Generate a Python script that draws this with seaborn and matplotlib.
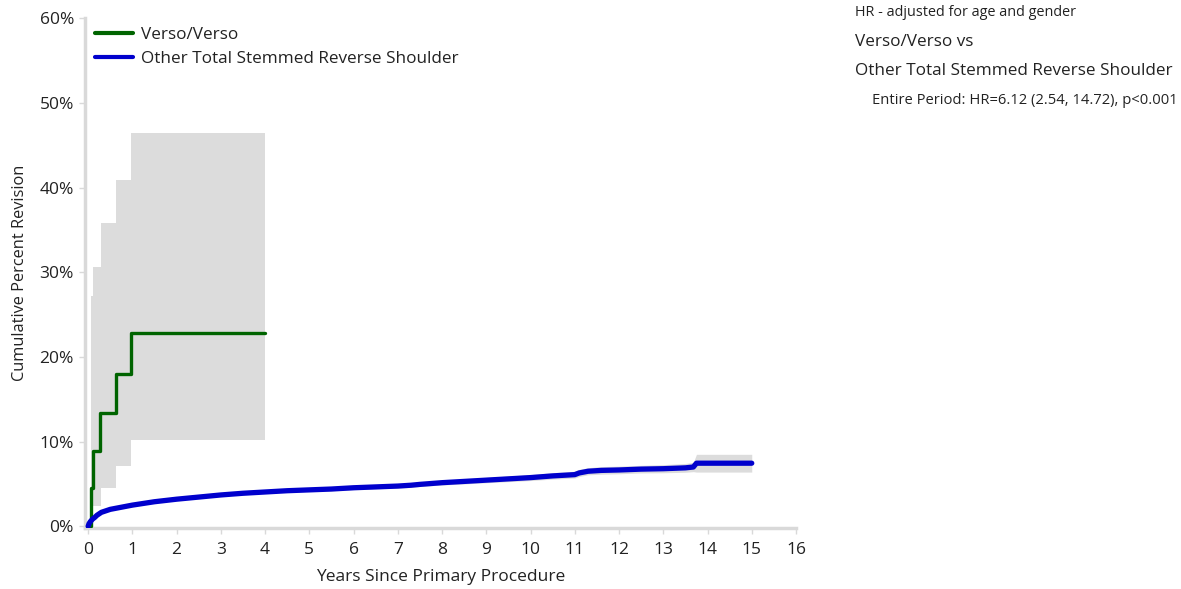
import numpy as np
import pandas as pd
import matplotlib
matplotlib.use("Agg")
import matplotlib.pyplot as plt
import seaborn as sns

# ---- data ----
green_years = [0.0, 0.07, 0.10, 0.27, 0.62, 0.96, 4.0]
green_pct = [0.0, 4.5, 8.9, 13.4, 18.0, 22.8, 22.8]
green_ci_years = [0.07, 0.10, 0.29, 0.64, 0.97, 4.0]
green_ci_low = [0.0, 2.4, 4.5, 7.1, 10.2, 10.2]
green_ci_high = [27.2, 30.6, 35.8, 40.9, 46.4, 46.4]

blue_years = [0.0, 0.02, 0.05, 0.1, 0.15, 0.2, 0.3, 0.5, 0.75, 1.0, 1.5, 2.0, 2.5, 3.0,
              3.5, 4.0, 4.5, 5.0, 5.5, 6.0, 6.5, 7.0, 7.3, 7.5, 8.0, 8.5, 9.0, 9.5, 10.0,
              10.5, 11.0, 11.1, 11.3, 11.6, 12.0, 12.5, 13.0, 13.5, 13.68, 13.75, 15.0]
blue_pct = [0.0, 0.3, 0.55, 0.85, 1.05, 1.3, 1.65, 2.0, 2.25, 2.5, 2.9, 3.2, 3.45, 3.7,
            3.9, 4.05, 4.2, 4.3, 4.4, 4.55, 4.65, 4.75, 4.85, 4.95, 5.15, 5.3, 5.45, 5.6, 5.75,
            5.95, 6.1, 6.3, 6.5, 6.6, 6.65, 6.75, 6.8, 6.9, 7.0, 7.45, 7.45]
blue_ci_low = [0.0, 0.25, 0.48, 0.77, 0.97, 1.2, 1.55, 1.9, 2.15, 2.4, 2.78, 3.08, 3.32, 3.56,
               3.75, 3.9, 4.03, 4.12, 4.2, 4.34, 4.43, 4.52, 4.6, 4.7, 4.88, 5.0, 5.14, 5.27, 5.4,
               5.57, 5.7, 5.88, 6.08, 6.15, 6.2, 6.3, 6.32, 6.38, 6.45, 6.4, 6.4]
blue_ci_high = [0.0, 0.35, 0.62, 0.93, 1.13, 1.4, 1.75, 2.1, 2.35, 2.6, 3.02, 3.32, 3.58, 3.84,
                4.05, 4.2, 4.37, 4.48, 4.6, 4.76, 4.87, 4.98, 5.1, 5.2, 5.42, 5.6, 5.76, 5.93, 6.1,
                6.33, 6.5, 6.72, 6.92, 7.05, 7.1, 7.2, 7.28, 7.42, 7.55, 8.5, 8.5]

labels = ["Verso/Verso", "Other Total Stemmed Reverse Shoulder"]
colors = ["#006400", "#0000CD"]
x_ticks = list(range(0, 17))
y_ticks = [0, 10, 20, 30, 40, 50, 60]

# ---- plot ----
sns.set_style("white")
plt.rcParams['font.family'] = ['Open Sans', 'DejaVu Sans']

fig = plt.figure(figsize=(11.81, 5.89), dpi=100)
ax = fig.add_axes([0.072, 0.1036, 0.602, 0.8655])

ax.fill_between(green_ci_years, green_ci_low, green_ci_high, step="post",
                color="#dcdcdc", linewidth=0, zorder=1)
ax.fill_between(blue_years, blue_ci_low, blue_ci_high, color="#dcdcdc", linewidth=0, zorder=1)

df_g = pd.DataFrame({"Years": green_years, "Pct": green_pct})
df_b = pd.DataFrame({"Years": blue_years, "Pct": blue_pct})
sns.lineplot(data=df_g, x="Years", y="Pct", ax=ax, color=colors[0], linewidth=2.4,
             drawstyle="steps-post", estimator=None, label=labels[0], zorder=3)
sns.lineplot(data=df_b, x="Years", y="Pct", ax=ax, color=colors[1], linewidth=3.8,
             estimator=None, label=labels[1], zorder=4, solid_capstyle="round")

ax.set_xlim(-0.07, 16.0)
ax.set_ylim(-0.2, 60)
ax.set_xticks(x_ticks)
ax.set_xticklabels([str(t) for t in x_ticks])
ax.set_yticks(y_ticks)
ax.set_yticklabels([f"{t}%" for t in y_ticks])

for s in ["top", "right"]:
    ax.spines[s].set_visible(False)
for s in ["left", "bottom"]:
    ax.spines[s].set_color("#d9d9d9")
    ax.spines[s].set_linewidth(2.5)

ax.tick_params(axis="both", which="both", length=4, width=1, color="#d9d9d9",
               labelsize=12.5, labelcolor="#222222", bottom=True, left=True)
ax.tick_params(axis="x", pad=6)
ax.tick_params(axis="y", pad=4)
ax.set_xlabel("Years Since Primary Procedure", fontsize=12.5, color="#222222", labelpad=8)
ax.set_ylabel("Cumulative Percent Revision", fontsize=11.8, color="#222222", labelpad=8)

leg = ax.legend(loc="upper left", bbox_to_anchor=(0.0, 1.003), frameon=False,
                fontsize=12.3, handlelength=2.2, handletextpad=0.45, labelspacing=0.46,
                borderaxespad=0.2)
for line in leg.get_lines():
    line.set_linewidth(3)
for t in leg.get_texts():
    t.set_color("#222222")

fig.text(855 / 1181, 1 - 12 / 589, "HR - adjusted for age and gender", fontsize=10.4,
         va="center", ha="left", color="#222222")
fig.text(855 / 1181, 1 - 42 / 589, "Verso/Verso vs", fontsize=12.3,
         va="center", ha="left", color="#222222")
fig.text(855 / 1181, 1 - 71 / 589, "Other Total Stemmed Reverse Shoulder", fontsize=12.3,
         va="center", ha="left", color="#222222")
fig.text(872 / 1181, 1 - 100 / 589, "Entire Period: HR=6.12 (2.54, 14.72), p<0.001",
         fontsize=10.6, va="center", ha="left", color="#222222")

fig.savefig("out.png", dpi=100)
